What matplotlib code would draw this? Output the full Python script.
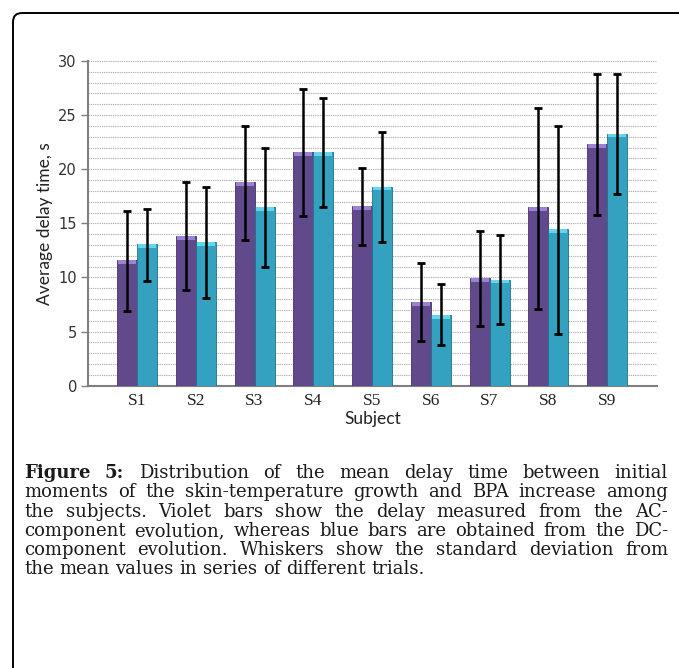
import numpy as np
import matplotlib.pyplot as plt
from matplotlib.patches import FancyBboxPatch

# values
subjects = ["S1", "S2", "S3", "S4", "S5", "S6", "S7", "S8", "S9"]
ac_mean = [11.6, 13.8, 18.8, 21.6, 16.6, 7.7, 9.95, 16.5, 22.3]
ac_low = [6.9, 8.8, 13.5, 15.7, 13.0, 4.1, 5.55, 7.1, 15.8]
ac_high = [16.1, 18.8, 24.0, 27.45, 20.1, 11.3, 14.3, 25.7, 28.8]
dc_mean = [13.1, 13.3, 16.5, 21.6, 18.4, 6.5, 9.8, 14.5, 23.3]
dc_low = [9.7, 8.1, 11.0, 16.5, 13.3, 3.8, 5.7, 4.8, 17.7]
dc_high = [16.3, 18.4, 22.0, 26.6, 23.4, 9.4, 13.9, 24.0, 28.8]

caption_lines = [
    "Figure 5: Distribution of the mean delay time between initial",
    "moments of the skin-temperature growth and BPA increase among",
    "the subjects. Violet bars show the delay measured from the AC-",
    "component evolution, whereas blue bars are obtained from the DC-",
    "component evolution. Whiskers show the standard deviation from",
    "the mean values in series of different trials.",
]

W, H = 679, 668
fig = plt.figure(figsize=(W / 100, H / 100), dpi=100)

# rounded frame around the figure panel
frame = FancyBboxPatch((0.13, -0.6), 7.5, 6.55 + 0.6,
                       boxstyle="round,pad=0,rounding_size=0.09",
                       transform=fig.dpi_scale_trans, fill=False,
                       edgecolor="black", linewidth=1.4)
fig.patches.append(frame)

ax = fig.add_axes([88 / W, 1 - 385.7 / H, (657 - 88) / W, (385.7 - 61) / H])

x = np.arange(len(subjects))
bw = 0.34
violet, violet_top, violet_edge = "#604a8c", "#9b82d2", "#45346a"
blue, blue_top, blue_edge = "#33a1bf", "#62d6ec", "#1f7288"

ac = np.array(ac_mean)
dc = np.array(dc_mean)
ax.bar(x - bw / 2, ac, bw, color=violet, edgecolor=violet_edge, linewidth=0.6, zorder=3)
ax.bar(x + bw / 2, dc, bw, color=blue, edgecolor=blue_edge, linewidth=0.6, zorder=3)
# light top faces of the bars
cap = 0.35
ax.bar(x - bw / 2, cap, bw * 0.9, bottom=ac - cap, color=violet_top, linewidth=0, zorder=4)
ax.bar(x + bw / 2, cap, bw * 0.9, bottom=dc - cap, color=blue_top, linewidth=0, zorder=4)

ac_err = [ac - np.array(ac_low), np.array(ac_high) - ac]
dc_err = [dc - np.array(dc_low), np.array(dc_high) - dc]
for xs, m, e in [(x - bw / 2, ac, ac_err), (x + bw / 2, dc, dc_err)]:
    ax.errorbar(xs, m, yerr=e, fmt="none", ecolor="black", elinewidth=1.8,
                capsize=3, capthick=2, zorder=5)

ax.set_xlim(-0.835, 8.85)
ax.set_ylim(0, 30)
ax.set_yticks(np.arange(0, 31, 5))
ax.set_yticks(np.arange(0, 31, 1), minor=True)
ax.yaxis.grid(True, which="both", color="#b4b4b4", linestyle=(0, (1.2, 0.8)), linewidth=0.8)
ax.set_axisbelow(True)
ax.tick_params(axis="y", which="minor", length=0)
ax.tick_params(axis="y", which="major", length=5, color="#7f7f7f", width=1, pad=3)
ax.tick_params(axis="x", length=0, pad=5)
for s in ["top", "right"]:
    ax.spines[s].set_visible(False)
for s in ["left", "bottom"]:
    ax.spines[s].set_color("#7f7f7f")
    ax.spines[s].set_linewidth(1.5)

ax.set_xticks(x)
ax.set_xticklabels(subjects, family=["Liberation Serif"], fontsize=12.5, color="#222222")
for lab in ax.get_yticklabels():
    lab.set_family(["DejaVu Sans"])
    lab.set_fontsize(10.5)
    lab.set_color("#333333")

ax.set_ylabel("Average delay time, s", family=["Lato", "DejaVu Sans"], fontsize=12.5,
              color="#222222", labelpad=4)
ax.set_xlabel("Subject", family=["Lato", "DejaVu Sans"], fontsize=12.5,
              color="#222222", labelpad=2)

# justified caption, placed word by word
fig.canvas.draw()
renderer = fig.canvas.get_renderer()
left_px, right_px = 24, 668
fs = 13
for i, line in enumerate(caption_lines):
    ypx = 478 + i * 19.3
    words = line.split()
    texts = []
    for j, w in enumerate(words):
        bold = i == 0 and j < 2
        t = fig.text(0, 1 - ypx / H, w, fontsize=fs, family=["DejaVu Serif"],
                     fontweight="bold" if bold else "normal", va="baseline",
                     color="#1a1a1a")
        texts.append(t)
    widths = [t.get_window_extent(renderer).width for t in texts]
    if i < len(caption_lines) - 1:
        gap = (right_px - left_px - sum(widths)) / (len(words) - 1)
    else:
        gap = fs * 100 / 72 * 0.32
    xp = left_px
    for t, w in zip(texts, widths):
        t.set_x(xp / W)
        xp += w + gap

fig.savefig("out.png", dpi=100)
